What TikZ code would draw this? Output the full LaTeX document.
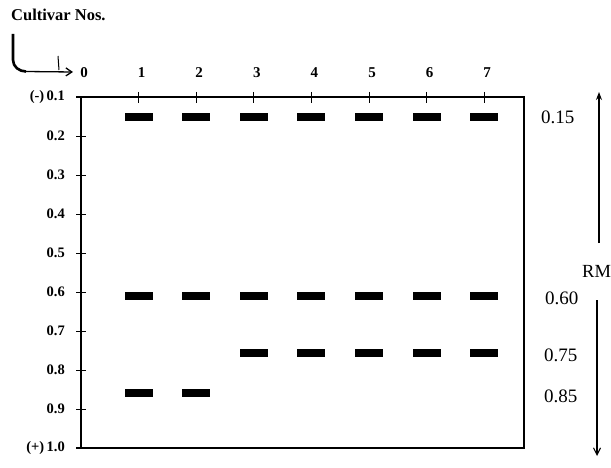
\documentclass[tikz,border=0pt]{standalone}
\usepackage{fontspec}
\setmainfont{Liberation Serif}
\usetikzlibrary{arrows.meta}
\begin{document}
\begin{tikzpicture}[x=1pt,y=-1pt,
  band/.style={fill=black,inner sep=0pt,minimum width=28pt,minimum height=7.5pt},
  toplab/.style={font=\fontsize{15}{15}\selectfont\bfseries,inner sep=0pt},
  leftlab/.style={font=\fontsize{14.5}{14.5}\selectfont\bfseries,inner sep=0pt,anchor=east},
  rightlab/.style={font=\fontsize{19}{19}\selectfont,inner sep=0pt,anchor=west},
  frame/.style={line width=1.6pt},
  tick/.style={line width=0.9pt}]
\useasboundingbox (0,0) rectangle (611,468);
% frame
\draw[frame] (76,97) -- (524,97) -- (524,448) -- (76,448);
\draw[frame] (81,97) -- (81,448);
% left ticks and labels
\foreach \v [count=\i from 0] in {0.1,0.2,0.3,0.4,0.5,0.6,0.7,0.8,0.9,1.0}{
  \draw[tick] (76,97+39*\i) -- (86,97+39*\i);
}
\node[leftlab] (l1) at (65,97) {(-)\,0.1};
\foreach \v [count=\i from 1] in {0.2,0.3,0.4,0.5,0.6,0.7,0.8,0.9}{
  \node[leftlab] (l\i) at (65,97+39*\i) {\v};
}
\node[leftlab] (l10) at (65,448) {(+)\,1.0};
% top ticks and labels
\foreach \c in {1,...,7}{
  \draw[tick] (81+57.6*\c,92) -- (81+57.6*\c,103);
}
\foreach \c in {0,...,7}{
  \node[toplab] (t\c) at (84+57.6*\c,73) {\c};
}
% Cultivar label and L arrow
\node[font=\fontsize{16.5}{16.5}\selectfont\bfseries,anchor=base west,inner sep=0pt] (cult) at (11,21) {Cultivar Nos.};
\coordinate (la) at (13,34);
\coordinate (lb) at (73,72);
\draw[line width=2.6pt] (la) -- (13,60) to[out=-90,in=180] (26,71.5);
\draw[line width=1.3pt,-{Straight Barb[length=6pt,width=8pt]}] (25,71.5) -- (lb);
\draw[line width=1pt] (58,56) -- (59,70);
% bands
\foreach \c in {1,...,7}{
  \node[band] (a\c) at (81+57.6*\c,117) {};
  \node[band] (b\c) at (81+57.6*\c,296) {};
}
\foreach \c in {3,...,7}{
  \node[band] (c\c) at (81+57.6*\c,353) {};
}
\foreach \c in {1,2}{
  \node[band] (d\c) at (81+57.6*\c,393) {};
}
% right labels
\node[rightlab] (r15) at (541,117) {0.15};
\node[rightlab] (r60) at (545,298) {0.60};
\node[rightlab] (r75) at (544,355) {0.75};
\node[rightlab] (r85) at (544,396) {0.85};
\node[font=\fontsize{18.5}{18.5}\selectfont,anchor=west,inner sep=0pt] (rm) at (582,271) {RM};
\coordinate (up0) at (599,243);
\coordinate (up1) at (599,92);
\coordinate (dn0) at (597,300);
\coordinate (dn1) at (597,456);
\draw[line width=1.1pt,-{Stealth[length=8pt,width=6pt]}] (up0) -- (up1);
\draw[line width=1.1pt,-{Straight Barb[length=7pt,width=7pt]}] (dn0) -- (dn1);
\end{tikzpicture}
\end{document}
